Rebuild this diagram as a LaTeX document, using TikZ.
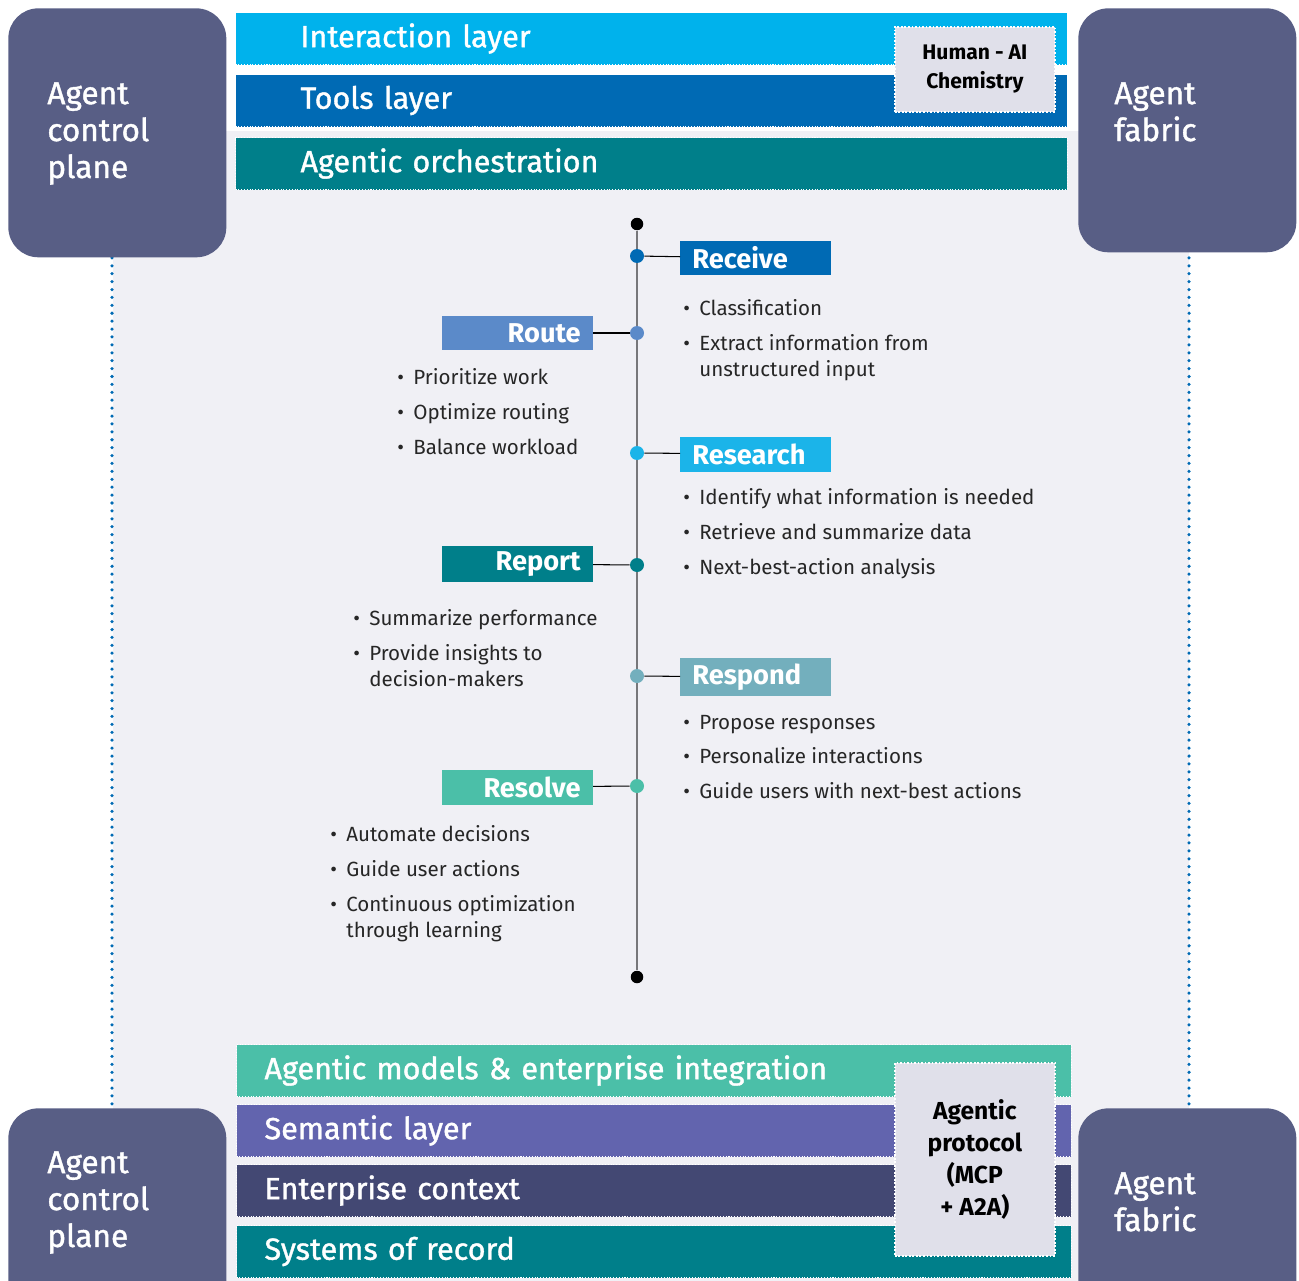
\documentclass[tikz,border=0pt]{standalone}
\usepackage{fontspec}
\setmainfont{Fira Sans}
\newfontfamily\medfont{Fira Sans}[FakeBold=1.2]
\usetikzlibrary{positioning}

\definecolor{panelbg}{HTML}{F0F0F5}
\definecolor{cornerc}{HTML}{585E85}
\definecolor{interc}{HTML}{00B2EC}
\definecolor{toolsc}{HTML}{006AB4}
\definecolor{orchc}{HTML}{007F8A}
\definecolor{modelc}{HTML}{4BBFA8}
\definecolor{semc}{HTML}{6264AE}
\definecolor{entc}{HTML}{434873}
\definecolor{chemc}{HTML}{E0E0EA}
\definecolor{routec}{HTML}{5B8AC9}
\definecolor{researchc}{HTML}{1BB4E9}
\definecolor{respondc}{HTML}{73AFBD}
\definecolor{linec}{HTML}{77777A}

\newcommand{\bi}{\makebox[9.1pt][l]{\textbullet}}
\newcommand{\bo}{\hspace*{9.1pt}}

\tikzset{
    corner/.style={fill=cornerc, rounded corners=0.6cm, anchor=north west,
        minimum width=4.36cm, minimum height=5.2cm, inner sep=0pt},
    cornertext/.style={anchor=north west, inner sep=0pt, align=left, text=white,
        font=\medfont\fontsize{18}{21}\selectfont},
    band/.style={anchor=north west, draw=white, densely dotted, line width=0.6pt,
        minimum height=1.04cm, text=white, align=left,
        font=\medfont\fontsize{17.4}{21}\selectfont},
    topband/.style={band, minimum width=16.64cm, inner xsep=1.3cm, text width=14.04cm},
    lowband/.style={band, minimum width=16.70cm, inner xsep=0.56cm, text width=15.58cm},
    chem/.style={fill=chemc, draw=white, densely dotted, line width=1pt, align=center,
        anchor=north west, minimum width=3.2cm, inner sep=0pt},
    stage/.style={minimum width=3.02cm, minimum height=0.7cm, inner xsep=0.24cm,
        text width=2.54cm, text=white, font=\fontsize{15.5}{18}\bfseries},
    rstage/.style={stage, anchor=west, align=left},
    lstage/.style={stage, anchor=east, align=right},
    dot/.style={circle, inner sep=0pt, minimum size=0.28cm},
    enddot/.style={dot, fill=black, minimum size=0.25cm},
    bullets/.style={anchor=north west, inner sep=0pt, align=left, text=black!85,
        font=\fontsize{11.7}{14.8}\selectfont},
    stem/.style={draw=black, line width=0.6pt},
    guide/.style={toolsc, line width=2pt, line cap=round, dash pattern=on 0pt off 4.5pt}
}

\begin{document}
\begin{tikzpicture}[x=0.02cm, y=-0.02cm]
    \useasboundingbox (0,0) rectangle (1299,1281);
    \clip (0,0) rectangle (1299,1281);
    % light panel and dotted guides
    \fill[panelbg] (113,131) rectangle (1189,1281);
    \draw[guide] (112,250) -- (112,1108);
    \draw[guide] (1189,250) -- (1189,1108);

    % corner blocks
    \node[corner, minimum height=4.98cm] (cpTop) at (8,8) {};
    \node[cornertext] (cpTopText) at (47,82) {Agent\\control\\plane};
    \node[corner, minimum height=4.88cm] (afTop) at (1078,8) {};
    \node[cornertext] (afTopText) at (1114,82) {Agent\\fabric};
    \node[corner] (cpLow) at (8,1108) {};
    \node[cornertext] (cpLowText) at (47,1151) {Agent\\control\\plane};
    \node[corner] (afLow) at (1078,1108) {};
    \node[cornertext] (afLowText) at (1114,1172) {Agent\\fabric};

    % upper layers
    \node[topband, fill=interc] (interaction) at (235,12) {Interaction layer};
    \node[topband, fill=toolsc] (tools) at (235,74) {Tools layer};
    \node[topband, fill=orchc] (orchestration) at (235,137) {Agentic orchestration};
    \node[chem, minimum height=1.7cm, font=\fontsize{12}{16.5}\bfseries] (chemistry) at (894,26)
        {Human - AI\\Chemistry};

    % lower layers
    \node[lowband, fill=modelc] (models) at (236,1044) {Agentic models \& enterprise integration};
    \node[lowband, fill=semc] (semantic) at (236,1104) {Semantic layer};
    \node[lowband, fill=entc] (enterprise) at (236,1164) {Enterprise context};
    \node[lowband, fill=orchc] (records) at (236,1225) {Systems of record};
    \node[chem, minimum height=3.86cm, font=\fontsize{14}{18.2}\bfseries] (protocol) at (894,1062)
        {Agentic\\protocol\\(MCP\\+ A2A)};

    % timeline
    \node[enddot] (tlTop) at (637,224) {};
    \node[enddot] (tlEnd) at (637,977) {};
    \draw[linec, line width=1.2pt] (tlTop) -- (tlEnd);

    \node[dot, fill=toolsc] (dReceive) at (637,256) {};
    \node[dot, fill=routec] (dRoute) at (637,333) {};
    \node[dot, fill=researchc] (dResearch) at (637,453) {};
    \node[dot, fill=orchc] (dReport) at (637,565) {};
    \node[dot, fill=respondc] (dRespond) at (637,676) {};
    \node[dot, fill=modelc] (dResolve) at (637,786) {};

    \node[rstage, fill=toolsc] (sReceive) at (680,258) {Receive};
    \node[lstage, fill=routec] (sRoute) at (593,333) {Route};
    \node[rstage, fill=researchc] (sResearch) at (680,454) {Research};
    \node[lstage, fill=orchc] (sReport) at (593,564) {Report};
    \node[rstage, fill=respondc] (sRespond) at (680,677) {Respond};
    \node[lstage, fill=modelc] (sResolve) at (593,787) {Resolve};

    \draw[stem] (dReceive) -- (sReceive);
    \draw[stem] (dRoute) -- (sRoute);
    \draw[stem] (dResearch) -- (sResearch);
    \draw[stem] (dReport) -- (sReport);
    \draw[stem] (dRespond) -- (sRespond);
    \draw[stem] (dResolve) -- (sResolve);

    % bullet lists
    \node[bullets] (bReceive) at (683,299.5)
        {\bi Classification\\[5.1pt]\bi Extract information from\\\bo unstructured input};
    \node[bullets] (bRoute) at (397,368.5)
        {\bi Prioritize work\\[5.1pt]\bi Optimize routing\\[5.1pt]\bi Balance workload};
    \node[bullets] (bResearch) at (683,488.5)
        {\bi Identify what information is needed\\[5.1pt]\bi Retrieve and summarize data\\[5.1pt]\bi Next-best-action analysis};
    \node[bullets] (bReport) at (353,609.5)
        {\bi Summarize performance\\[5.1pt]\bi Provide insights to\\\bo decision-makers};
    \node[bullets] (bRespond) at (683,714.5)
        {\bi Propose responses\\[5.1pt]\bi Personalize interactions\\[5.1pt]\bi Guide users with next-best actions};
    \node[bullets] (bResolve) at (330,825.5)
        {\bi Automate decisions\\[5.1pt]\bi Guide user actions\\[5.1pt]\bi Continuous optimization\\\bo through learning};
\end{tikzpicture}
\end{document}
